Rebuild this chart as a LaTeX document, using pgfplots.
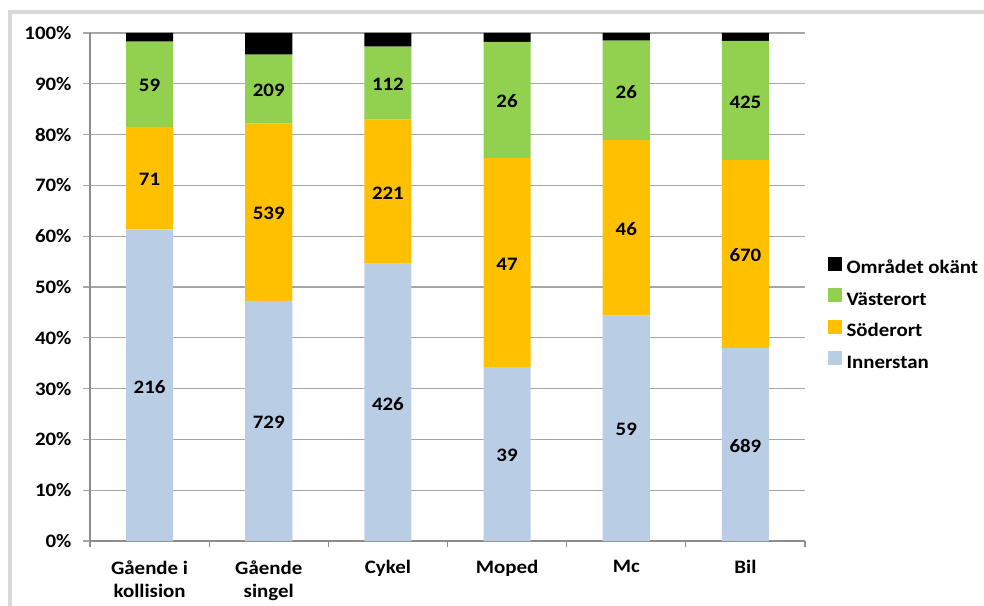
\documentclass[border=0pt]{standalone}
\usepackage{pgfplots}
\pgfplotsset{compat=1.18}
\usepackage{pgfplotstable}
\usepackage{fontspec}
\setmainfont{Carlito}[FakeStretch=1.1]

\definecolor{inner}{HTML}{B9CDE5}
\definecolor{soder}{HTML}{FFC000}
\definecolor{vaster}{HTML}{92D050}
\definecolor{gridc}{HTML}{A6A6A6}
\definecolor{axisc}{HTML}{8C8C8C}
\definecolor{framec}{HTML}{D9D9D9}

\newcommand{\chartfont}{\bfseries\fontsize{19}{23}\selectfont}

% share of each area in percent (p*) and number of injured (n*)
% I = Innerstan, S = Söderort, V = Västerort, O = Området okänt
\pgfplotstableread{
x pI    pS    pV    pO   nI  nS  nV  nO
0 61.36 20.17 16.76 1.71 216 71  59  6
1 47.25 34.93 13.55 4.27 729 539 209 66
2 54.62 28.33 14.36 2.69 426 221 112 21
3 34.21 41.23 22.81 1.75 39  47  26  2
4 44.36 34.59 19.55 1.50 59  46  26  2
5 38.02 36.98 23.45 1.55 689 670 425 28
}\olycka

\begin{document}
\begin{tikzpicture}
\useasboundingbox (0,0) rectangle (984pt,605pt);
\draw[framec, line width=3.5pt] (10pt,-20pt) -- (10pt,593pt) -- (1010pt,593pt);
\begin{axis}[
  at={(90pt,64pt)}, anchor=south west,
  scale only axis, width=715pt, height=508pt,
  ybar stacked, bar width=0.395,
  xmin=-0.5, xmax=5.5, ymin=0, ymax=100,
  axis x line*=bottom, axis y line*=left,
  axis line style={axisc, line width=1.2pt},
  tick align=outside,
  xtick={0,...,5},
  xticklabels={{Gående i\\kollision},{Gående\\singel},Cykel,Moped,Mc,Bil},
  xticklabel style={align=center, font=\chartfont, yshift=-9pt},
  major x tick style={draw=none},
  minor xtick={-0.5,0.5,...,5.5},
  minor tick length=6pt,
  minor x tick style={axisc, line width=1.2pt},
  ytick={0,10,...,100},
  yticklabels={0\%,10\%,20\%,30\%,40\%,50\%,60\%,70\%,80\%,90\%,100\%},
  yticklabel style={font=\chartfont, xshift=-8pt},
  major tick length=7pt,
  major y tick style={gridc, line width=1.2pt},
  ymajorgrids, grid style={gridc, line width=1.2pt},
  legend style={draw=none, fill=none, at={(1.027,0.446)}, anchor=west,
    font=\chartfont, legend cell align=left,
    nodes={inner sep=0pt, text height=14pt, text depth=4pt},
    row sep=10.4pt,
    /tikz/every odd column/.append style={column sep=5pt}},
  reverse legend,
  legend image code/.code={\fill[#1] (0pt,-2pt) rectangle (14pt,12pt);},
  every node near coord/.append style={anchor=center, font=\chartfont, yshift=-1.5pt},
]
\addplot[fill=inner, draw=none, nodes near coords, point meta=explicit symbolic]
  table[x=x, y=pI, meta=nI] {\olycka};
\addplot[fill=soder, draw=none, nodes near coords, point meta=explicit symbolic]
  table[x=x, y=pS, meta=nS] {\olycka};
\addplot[fill=vaster, draw=none, nodes near coords, point meta=explicit symbolic]
  table[x=x, y=pV, meta=nV] {\olycka};
\addplot[fill=black, draw=none]
  table[x=x, y=pO] {\olycka};
\legend{Innerstan,Söderort,Västerort,Området okänt}
\end{axis}
\end{tikzpicture}
\end{document}
